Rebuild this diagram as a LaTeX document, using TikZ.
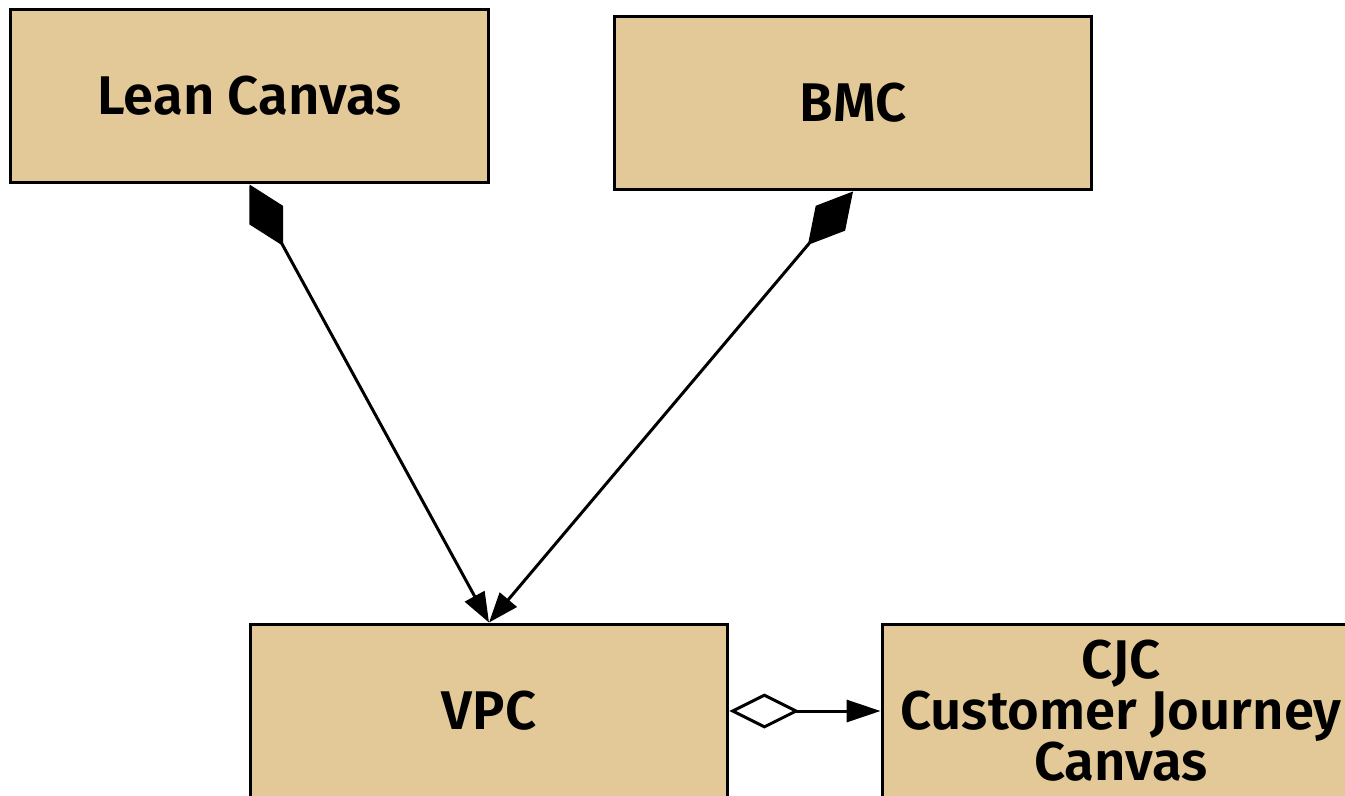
\documentclass[tikz,border=0pt]{standalone}
\usepackage{fontspec}
\setmainfont{Fira Sans}[BoldFont={Fira Sans SemiBold}]
\usetikzlibrary{arrows.meta}
\definecolor{canvasfill}{HTML}{E3C998}
\tikzset{
  canvasbox/.style={rectangle,draw,fill=canvasfill,line width=1.7pt,
    minimum width=9.56cm,minimum height=3.48cm,inner sep=0pt,
    align=center,font=\bfseries\fontsize{31}{29}\selectfont},
  composed/.style={{Diamond[length=1.4cm,width=0.77cm]}-{Triangle[length=0.6cm,width=0.44cm]},line width=1.7pt},
  aggregated/.style={{Diamond[open,fill=white,length=1.4cm,width=0.7cm]}-{Triangle[length=0.68cm,width=0.44cm]},line width=1.7pt}
}

\begin{document}
\begin{tikzpicture}[x=0.02cm,y=-0.02cm]
\useasboundingbox (0,0) rectangle (1345,795);

% Canvases, top row
\node[canvasbox] (lean) at (249.5, 96) {Lean Canvas};
\node[canvasbox] (bmc) at (853, 103) {BMC};

% Canvases, bottom row
\node[canvasbox] (vpc) at (489, 711) {VPC};
\node[canvasbox] (cjc) at (1121, 711) {CJC\\Customer Journey\\Canvas};

% Composition edges
\draw[composed] (lean.south) -- (vpc.north);
\draw[composed] (bmc.south) -- (vpc.north);

% Aggregation edge
\draw[aggregated] (vpc.east) -- (cjc.west);

\end{tikzpicture}
\end{document}
